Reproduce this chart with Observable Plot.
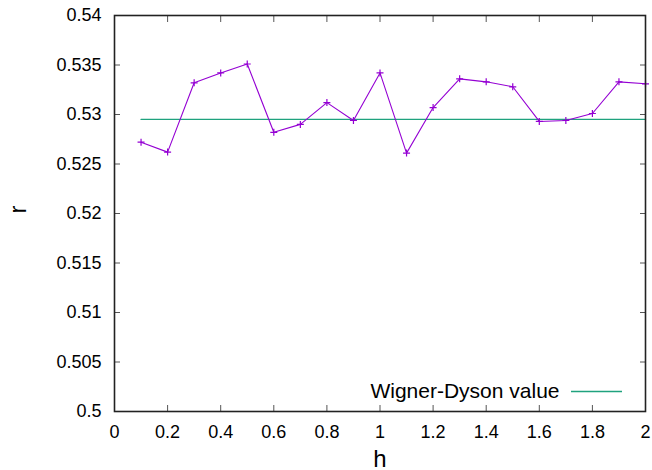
<!DOCTYPE html>
<html><head><meta charset="utf-8">
<script src="https://cdn.jsdelivr.net/npm/d3@7"></script>
<script src="https://cdn.jsdelivr.net/npm/@observablehq/plot@0.6"></script>
<style>body{margin:0;background:#fff} svg{display:block}</style>
</head><body><div id="chart"></div>
<script>
const h = [0.1, 0.2, 0.3, 0.4, 0.5, 0.6, 0.7, 0.8, 0.9, 1.0, 1.1, 1.2, 1.3, 1.4, 1.5, 1.6, 1.7, 1.8, 1.9, 2.0];
const r = [0.5272, 0.5262, 0.5332, 0.5342, 0.5351, 0.5282, 0.5290, 0.5312, 0.5294, 0.5342,
           0.5261, 0.5307, 0.5336, 0.5333, 0.5328, 0.5293, 0.5294, 0.5301, 0.5333, 0.5331];
const wignerDyson = 0.5295;
const xTicks = [0, 0.2, 0.4, 0.6, 0.8, 1, 1.2, 1.4, 1.6, 1.8, 2];
const yTicks = [0.5, 0.505, 0.51, 0.515, 0.52, 0.525, 0.53, 0.535, 0.54];
const legendLabel = "Wigner-Dyson value";
const xLabel = "h";
const yLabel = "r";

const data = h.map((x, i) => ({h: x, r: r[i]}));
const [h0, h1] = d3.extent(h);
const wdLine = [{h: h0, r: wignerDyson}, {h: h1, r: wignerDyson}];
const cross = {draw(ctx, size) { const a = Math.sqrt(size / Math.PI); ctx.moveTo(-a, 0); ctx.lineTo(a, 0); ctx.moveTo(0, -a); ctx.lineTo(0, a); }};
const purple = "#9400d3", teal = "#1fa27e";
const font = "'Liberation Sans', Arial, Helvetica, sans-serif";
const fmt = d3.format("~g");
const ML = 114, MR = 7, MT = 15, MB = 59, W = 652, H = 470;

const chart = Plot.plot({
  width: W, height: H, marginLeft: ML, marginRight: MR, marginTop: MT, marginBottom: MB,
  style: {fontFamily: font, fontSize: "18px", color: "#000", background: "#fff", overflow: "visible"},
  x: {domain: [0, 2]},
  y: {domain: [0.5, 0.54]},
  marks: [
    Plot.axisY(yTicks, {anchor: "left", tickSize: 0, tickPadding: 13, tickFormat: fmt, fontSize: 18, label: null}),
    Plot.axisY(yTicks, {anchor: "left", tickSize: -6, tickFormat: () => "", label: null, stroke: "#555"}),
    Plot.axisY(yTicks, {anchor: "right", tickSize: -6, tickFormat: () => "", label: null, stroke: "#555"}),
    Plot.axisX(xTicks, {anchor: "bottom", tickSize: 0, tickPadding: 14, tickFormat: fmt, fontSize: 18, label: null}),
    Plot.axisX(xTicks, {anchor: "bottom", tickSize: -6, tickFormat: () => "", label: null, stroke: "#555"}),
    Plot.axisX(xTicks, {anchor: "top", tickSize: -6, tickFormat: () => "", label: null, stroke: "#555"}),
    Plot.line(wdLine, {x: "h", y: "r", stroke: teal, strokeWidth: 1.3}),
    Plot.line(data, {x: "h", y: "r", stroke: purple, strokeWidth: 1.1}),
    Plot.dot(data, {x: "h", y: "r", symbol: cross, r: 3.5, stroke: purple, strokeWidth: 1.2, fill: "none"}),
    Plot.frame({stroke: "#222", strokeWidth: 1.6}),
    Plot.text([yLabel], {frameAnchor: "left", dx: -96, rotate: -90, fontSize: 24, fill: "#000"}),
    Plot.text([xLabel], {frameAnchor: "bottom", dy: 38, lineAnchor: "top", fontSize: 24, fill: "#000"}),
    Plot.text([legendLabel], {frameAnchor: "bottom-right", dx: -86, dy: -28, lineAnchor: "top", textAnchor: "end", fontSize: 21, fill: "#000"})
  ]
});
const svg = d3.select(chart);
const right = W - MR, bottom = H - MB;
svg.append("line")
  .attr("x1", right - 74).attr("x2", right - 23)
  .attr("y1", bottom - 19.5).attr("y2", bottom - 19.5)
  .attr("stroke", teal).attr("stroke-width", 1.3);
document.getElementById("chart").appendChild(chart);
</script>
</body></html>
